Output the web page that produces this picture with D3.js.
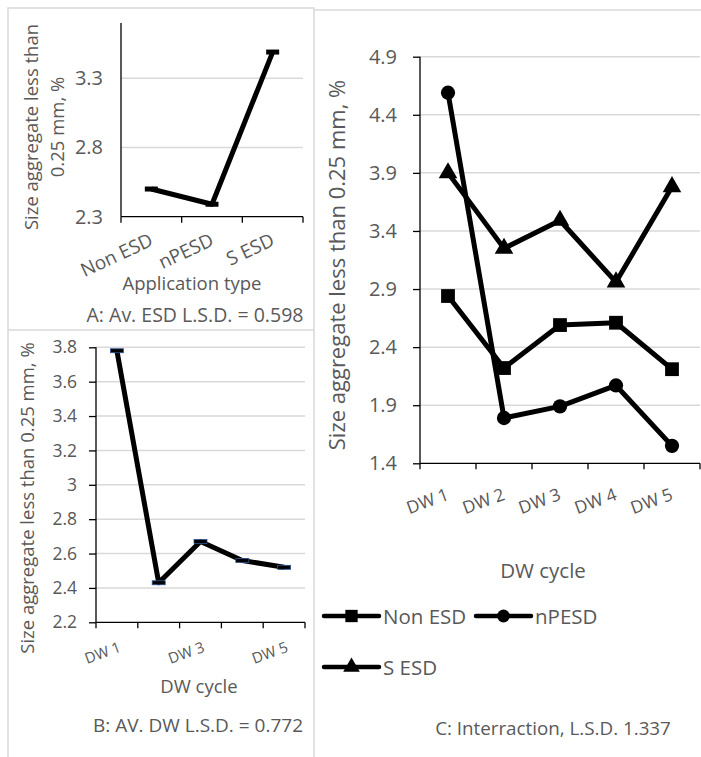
<!DOCTYPE html>
<html>
<head>
<meta charset="utf-8">
<script src="https://cdn.jsdelivr.net/npm/d3@7"></script>
<style>
  html, body { margin: 0; padding: 0; background: #fff; }
  svg { display: block; font-family: "Open Sans", sans-serif; }
  .lbl { fill: #595959; }
</style>
</head>
<body>
<svg id="chart" width="701" height="757"></svg>
<script>
// Panel A: mean by application type
const appTypes = ["Non ESD", "nPESD", "S ESD"];
const appMeans = [2.50, 2.39, 3.49];
const ticksA = [2.3, 2.8, 3.3];

// Panel B: mean by drying-wetting cycle
const dwCycles = ["DW 1", "DW 2", "DW 3", "DW 4", "DW 5"];
const dwMeans = [3.78, 2.43, 2.67, 2.56, 2.52];
const ticksB = [2.2, 2.4, 2.6, 2.8, 3, 3.2, 3.4, 3.6, 3.8];
const labelsB = ["DW 1", "", "DW 3", "", "DW 5"];

// Panel C: interaction, one series per application type
const seriesNames = ["Non ESD", "nPESD", "S ESD"];
const nonEsd = [2.84, 2.22, 2.59, 2.61, 2.21];
const npesd = [4.59, 1.79, 1.89, 2.07, 1.55];
const sEsd = [3.90, 3.25, 3.49, 2.96, 3.78];
const ticksC = [1.4, 1.9, 2.4, 2.9, 3.4, 3.9, 4.4, 4.9];

const yTitle = "Size aggregate less than 0.25 mm, %";
const GRID = "#d9d9d9", AXIS = "#000", TEXT = "#595959";

const svg = d3.select("#chart");

// panel frames
const frames = svg.append("g").attr("fill", "none").attr("stroke", GRID).attr("stroke-width", 1.5);
frames.append("path").attr("d", "M8,760 V8 H314 V760");
frames.append("path").attr("d", "M8,330 H314");
frames.append("path").attr("d", "M314,10 H701");

function fmt(v) { return String(+v.toFixed(1)); }

// generic category line panel
function panel(opts) {
  const g = svg.append("g");
  const x = d3.scaleBand().domain(opts.cats).range(opts.xr).padding(0);
  const y = d3.scaleLinear().domain(opts.yd).range(opts.yr);
  const x0 = opts.xr[0], x1 = opts.xr[1];

  // gridlines (all ticks above the baseline)
  g.append("g").selectAll("line")
    .data(opts.ticks.filter(t => t !== opts.yd[0]))
    .join("line")
    .attr("x1", x0).attr("x2", x1)
    .attr("y1", d => y(d)).attr("y2", d => y(d))
    .attr("stroke", GRID).attr("stroke-width", 1.5);

  // y axis
  const ya = g.append("g").attr("transform", `translate(${x0},0)`)
    .call(d3.axisLeft(y).tickValues(opts.ticks).tickFormat(fmt)
      .tickSize(opts.yTick).tickPadding(opts.yPad).tickSizeOuter(0));
  ya.select(".domain").attr("stroke", AXIS).attr("stroke-width", 1.3)
    .attr("d", `M0,${y(opts.yd[0])}V${y(opts.yd[1])}`);
  ya.selectAll(".tick line").attr("stroke", AXIS).attr("stroke-width", 1.3);
  ya.selectAll(".tick text").attr("fill", TEXT).style("font-size", opts.yFont + "px")
    .style("font-family", "'Open Sans', sans-serif");

  // x axis with ticks at category boundaries
  const yb = y(opts.yd[0]);
  g.append("line").attr("x1", x0).attr("x2", x1).attr("y1", yb).attr("y2", yb)
    .attr("stroke", AXIS).attr("stroke-width", 1.3);
  const edges = opts.cats.map(c => x(c)).concat([x1]);
  g.append("g").selectAll("line").data(edges).join("line")
    .attr("x1", d => d).attr("x2", d => d).attr("y1", yb).attr("y2", yb + 6)
    .attr("stroke", AXIS).attr("stroke-width", 1.3);

  // rotated category labels
  g.append("g").selectAll("text").data(opts.cats.map((c, i) => [c, opts.xLabels ? opts.xLabels[i] : c]))
    .join("text")
    .attr("class", "lbl")
    .attr("text-anchor", "end")
    .style("font-size", opts.xFont + "px")
    .attr("transform", d => `translate(${x(d[0]) + x.bandwidth() / 2 + opts.xdx},${yb + opts.xdy}) rotate(${opts.rot})`)
    .text(d => d[1]);

  return { g, x, y };
}

// ---- Panel A
const A = panel({
  cats: appTypes, xr: [121, 303], yd: [2.3, 3.7], yr: [216.7, 23], ticks: ticksA,
  yTick: 0, yPad: 18, yFont: 20, xFont: 19, xdx: 3, xdy: 28, rot: -25
});
A.g.append("path").datum(appMeans)
  .attr("fill", "none").attr("stroke", "#000").attr("stroke-width", 5).attr("stroke-linejoin", "round")
  .attr("d", d3.line().x((d, i) => A.x(appTypes[i]) + A.x.bandwidth() / 2).y(d => A.y(d)));
A.g.selectAll("rect.m").data(appMeans).join("rect")
  .attr("x", (d, i) => A.x(appTypes[i]) + A.x.bandwidth() / 2 - 6.5).attr("y", d => A.y(d) - 2.5)
  .attr("width", 13).attr("height", 5).attr("fill", "#000");
A.g.append("text").attr("class", "lbl").attr("text-anchor", "middle").style("font-size", "18.5px")
  .attr("transform", "translate(38,127) rotate(-90)")
  .text("Size aggregate less than");
A.g.append("text").attr("class", "lbl").attr("text-anchor", "middle").style("font-size", "18.5px")
  .attr("transform", "translate(64,127) rotate(-90)")
  .text("0.25 mm, %");
A.g.append("text").attr("class", "lbl").attr("text-anchor", "middle").style("font-size", "18.5px")
  .attr("x", 192).attr("y", 290).text("Application type");
A.g.append("text").attr("class", "lbl").attr("text-anchor", "middle").style("font-size", "19.5px")
  .attr("x", 195).attr("y", 322).text("A: Av. ESD L.S.D. = 0.598");

// ---- Panel B
const B = panel({
  cats: dwCycles, xLabels: labelsB, xr: [96, 305], yd: [2.2, 3.8], yr: [622.3, 347.3], ticks: ticksB,
  yTick: 7, yPad: 12, yFont: 17.5, xFont: 15, xdx: 5, xdy: 29, rot: -20
});
B.g.append("path").datum(dwMeans)
  .attr("fill", "none").attr("stroke", "#000").attr("stroke-width", 5).attr("stroke-linejoin", "round")
  .attr("d", d3.line().x((d, i) => B.x(dwCycles[i]) + B.x.bandwidth() / 2).y(d => B.y(d)));
B.g.selectAll("rect.m").data(dwMeans).join("rect")
  .attr("x", (d, i) => B.x(dwCycles[i]) + B.x.bandwidth() / 2 - 6.5).attr("y", d => B.y(d) - 2)
  .attr("width", 13).attr("height", 4).attr("fill", "#000")
  .attr("stroke", "#2f5597").attr("stroke-width", 0.8);
B.g.append("text").attr("class", "lbl").attr("text-anchor", "middle").style("font-size", "18.5px")
  .attr("transform", "translate(34,498) rotate(-90)").text(yTitle);
B.g.append("text").attr("class", "lbl").attr("text-anchor", "middle").style("font-size", "18.5px")
  .attr("x", 199).attr("y", 693).text("DW cycle");
B.g.append("text").attr("class", "lbl").attr("text-anchor", "middle").style("font-size", "19px")
  .attr("x", 198).attr("y", 732).text("B: AV. DW L.S.D. = 0.772");

// ---- Panel C
const C = panel({
  cats: dwCycles, xr: [420, 700], yd: [1.4, 4.9], yr: [463.3, 56.7], ticks: ticksC,
  yTick: 7, yPad: 16, yFont: 20, xFont: 17.5, xdx: 2, xdy: 36, rot: -20
});
const seriesData = [nonEsd, npesd, sEsd];
const markerTypes = [d3.symbolSquare, d3.symbolCircle, d3.symbolTriangle];
const markerSizes = [190, 160, 150];
const cx = i => C.x(dwCycles[i]) + C.x.bandwidth() / 2;
seriesData.forEach((vals, s) => {
  C.g.append("path").datum(vals)
    .attr("fill", "none").attr("stroke", "#000").attr("stroke-width", 5).attr("stroke-linejoin", "round")
    .attr("d", d3.line().x((d, i) => cx(i)).y(d => C.y(d)));
  C.g.append("g").selectAll("path").data(vals).join("path")
    .attr("transform", (d, i) => `translate(${cx(i)},${C.y(d)})`)
    .attr("d", d3.symbol().type(markerTypes[s]).size(markerSizes[s]))
    .attr("fill", "#000");
});
C.g.append("text").attr("class", "lbl").attr("text-anchor", "middle").style("font-size", "22px")
  .attr("transform", "translate(345,265) rotate(-90)").text(yTitle);
C.g.append("text").attr("class", "lbl").attr("text-anchor", "middle").style("font-size", "20.5px")
  .attr("x", 543).attr("y", 578).text("DW cycle");

// legend
const legendPos = [[324, 616], [476, 616], [324, 667]];
const leg = svg.append("g");
seriesNames.forEach((name, s) => {
  const [lx, ly] = legendPos[s];
  const item = leg.append("g").attr("transform", `translate(${lx},${ly})`);
  item.append("line").attr("x1", 0).attr("x2", 55).attr("y1", 0).attr("y2", 0)
    .attr("stroke", "#000").attr("stroke-width", 4.5).attr("stroke-linecap", "round");
  item.append("path").attr("transform", "translate(27.5,0)")
    .attr("d", d3.symbol().type(markerTypes[s]).size(markerSizes[s] * 0.8))
    .attr("fill", "#000");
  item.append("text").attr("class", "lbl").style("font-size", "20.5px")
    .attr("x", 59).attr("y", 7.5).text(name);
});

C.g.append("text").attr("class", "lbl").attr("text-anchor", "middle").style("font-size", "18.8px")
  .attr("x", 553).attr("y", 735).text("C: Interraction, L.S.D. 1.337");
</script>
</body>
</html>
